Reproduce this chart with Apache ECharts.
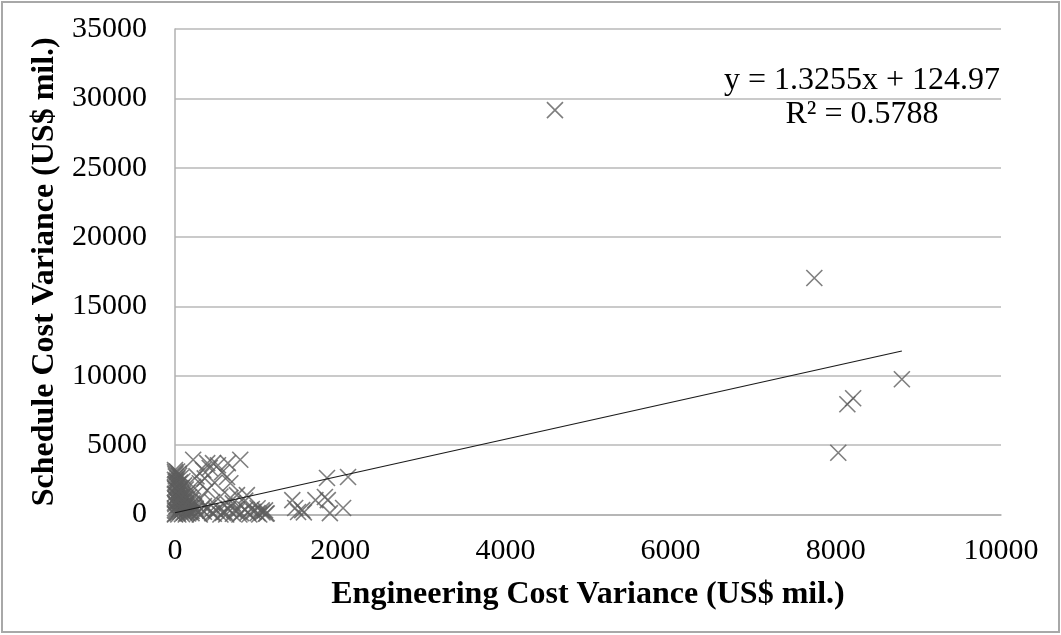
<!DOCTYPE html>
<html>
<head>
<meta charset="utf-8">
<script src="https://cdn.jsdelivr.net/npm/echarts@6/dist/echarts.min.js"></script>
<style>html,body{margin:0;padding:0;background:#fff}#c{width:1061px;height:635px}</style>
</head>
<body>
<div id="c"></div>
<script>
// Engineering cost variance (x) vs schedule cost variance (y), US$ mil.
const outlierPoints = [
  [4600, 29150], [7740, 17050], [8800, 9750], [8140, 7950], [8210, 8380], [8030, 4450]
];
const midPoints = [
  [1840, 2630], [2095, 2700], [1420, 1040], [1455, 470], [1490, 180], [1540, 320],
  [1700, 1040], [1815, 1260], [1850, 1040], [1875, 100], [2035, 470], [1560, 150],
  [1090, 300], [1060, 150], [1110, 80], [1000, 450]
];
const clusterPoints = [
  [0, 3050], [10, 2750], [20, 2450], [5, 2200], [30, 2000], [15, 1800], [40, 1650], [0, 1500],
  [25, 1350], [50, 1200], [10, 1100], [60, 1000], [35, 900], [80, 850], [5, 750], [45, 700],
  [100, 650], [20, 600], [70, 550], [120, 500], [0, 450], [55, 400], [90, 350], [140, 300],
  [15, 250], [65, 200], [110, 150], [30, 100], [160, 80], [0, 50], [85, 30], [40, 0],
  [130, 0], [0, 0], [5, 2900], [30, 2600], [60, 2300], [80, 1900], [100, 1500], [120, 1200],
  [140, 900], [160, 700], [180, 500], [50, 2800], [0, 2500], [0, 1900], [20, 1300], [200, 250],
  [0, 3200], [25, 3100], [45, 2950], [70, 2650], [90, 2400], [110, 2100], [130, 1800], [150, 1550],
  [170, 1250], [190, 1000], [210, 800], [230, 600], [250, 400], [10, 2350], [35, 2150], [55, 1900],
  [75, 1600], [95, 1300], [115, 1050], [135, 750], [155, 450], [175, 200], [0, 1200], [0, 850],
  [0, 300], [20, 1000], [40, 1450], [60, 1700], [80, 1250], [100, 900], [120, 650], [140, 100],
  [220, 3950], [390, 3700], [460, 3700], [640, 3700], [790, 3950], [340, 3200], [420, 3350],
  [520, 3550], [570, 3050], [630, 2700], [670, 2250], [300, 2250], [220, 2000], [390, 1750],
  [750, 1400], [870, 1400], [670, 1200], [300, 1100], [450, 900], [550, 1300], [700, 800],
  [850, 1000], [250, 1500], [480, 2300], [350, 600], [600, 650], [360, 2600], [260, 2750],
  [200, 100], [250, 300], [300, 0], [350, 200], [400, 450], [450, 100], [500, 300], [550, 0],
  [600, 200], [650, 400], [700, 50], [750, 250], [800, 100], [850, 350], [900, 0], [950, 200],
  [1000, 100], [1050, 300], [1100, 50], [280, 150], [430, 250], [580, 120], [720, 300], [880, 150],
  [320, 400], [470, 50], [620, 0], [780, 0], [930, 400], [1020, 0]
];
const trendSlope = 1.3255;
const trendIntercept = 124.97;
const trendRange = [0, 8800];
const xTicks = { min: 0, max: 10000, interval: 2000 };
const yTicks = { min: 0, max: 35000, interval: 5000 };
const eqText = 'y = 1.3255x + 124.97';
const r2Text = 'R² = 0.5788';

const allPoints = clusterPoints.concat(midPoints, outlierPoints);
const trendData = trendRange.map(x => [x, trendSlope * x + trendIntercept]);

const serif = '"Liberation Serif", "Times New Roman", serif';
const plain = v => String(v);
const chart = echarts.init(document.getElementById('c'), null, { renderer: 'canvas' });
chart.setOption({
  animation: false,
  backgroundColor: '#fff',
  grid: { left: 175, right: 60, top: 29, bottom: 120.5 },
  xAxis: {
    type: 'value', min: xTicks.min, max: xTicks.max, interval: xTicks.interval,
    name: 'Engineering Cost Variance (US$ mil.)', nameLocation: 'middle', nameGap: 64,
    nameTextStyle: { fontFamily: serif, fontWeight: 'bold', fontSize: 32, color: '#000' },
    axisLine: { lineStyle: { color: '#b0b0b0', width: 1.5 } },
    axisTick: { show: false },
    axisLabel: { fontFamily: serif, fontSize: 30, color: '#000', margin: 22, formatter: plain },
    splitLine: { show: false }
  },
  yAxis: {
    type: 'value', min: yTicks.min, max: yTicks.max, interval: yTicks.interval,
    name: 'Schedule Cost Variance (US$ mil.)', nameLocation: 'middle', nameGap: 108,
    nameTextStyle: { fontFamily: serif, fontWeight: 'bold', fontSize: 32, color: '#000' },
    axisLine: { show: true, lineStyle: { color: '#b0b0b0', width: 1.5 } },
    axisTick: { show: false },
    axisLabel: { fontFamily: serif, fontSize: 30, color: '#000', margin: 28, formatter: plain },
    splitLine: { lineStyle: { color: '#b8b8b8', width: 1.5 } }
  },
  series: [
    {
      type: 'scatter', data: allPoints,
      symbol: 'path://M0,0L10,10M10,0L0,10', symbolSize: 16,
      itemStyle: { color: 'rgba(0,0,0,0)', borderColor: '#5e5e5e', borderWidth: 1.6 },
      z: 3
    },
    {
      type: 'line', data: trendData, symbol: 'none',
      lineStyle: { color: '#1a1a1a', width: 1.2 }, z: 4
    }
  ],
  graphic: [
    { type: 'rect', shape: { x: 2, y: 2, width: 1057, height: 630 },
      style: { fill: 'none', stroke: '#a8a8a8', lineWidth: 2 }, silent: true },
    { type: 'text', x: 862, y: 81, style: { text: eqText, font: '32px ' + serif, fill: '#000', textAlign: 'center', textVerticalAlign: 'middle' } },
    { type: 'text', x: 862, y: 115, style: { text: r2Text, font: '32px ' + serif, fill: '#000', textAlign: 'center', textVerticalAlign: 'middle' } }
  ]
});
</script>
</body>
</html>
